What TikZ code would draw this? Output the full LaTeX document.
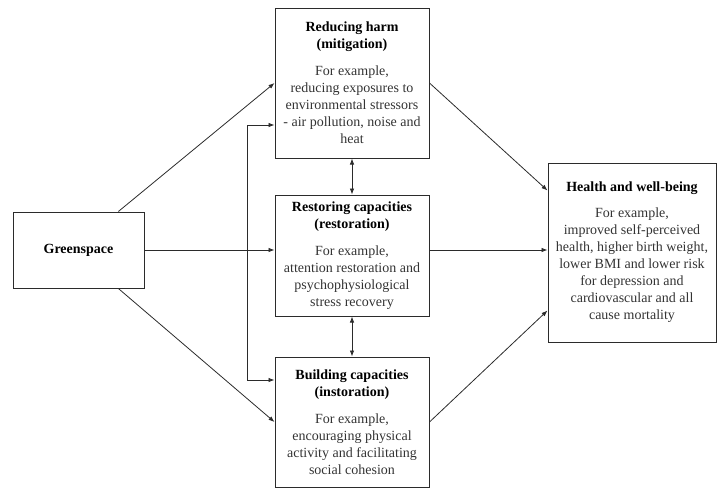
\documentclass[tikz,border=0pt]{standalone}
\usepackage{fontspec}
\setmainfont{Liberation Serif}
\usetikzlibrary{arrows,positioning}
\usetikzlibrary{arrows.meta}
\definecolor{colorLine}{HTML}{2B2B2B}
\definecolor{colorText}{HTML}{333333}
\newcommand{\hd}[1]{\textcolor{black}{\textbf{#1}}}

\begin{document}
\begin{tikzpicture}[x=1pt,y=-1pt,>={Latex[length=6pt,width=4.5pt]},every node/.append style={align=center,font=\fontsize{14}{17}\selectfont,text=colorText},blk/.style={draw=colorLine,line width=1pt,minimum width=154pt,inner sep=2pt},link/.style={->,draw=colorLine,line width=0.8pt}]
    \useasboundingbox (0,0) rectangle (717,488);
    \node [blk, minimum width=131pt, minimum height=76pt] (gs) at (78.5,250) {\hd{Greenspace}};
    \node [blk, minimum height=150pt] (rh) at (352,83) {\hd{Reducing harm}\\\hd{(mitigation)}\\[10pt]For example,\\reducing exposures to\\environmental stressors\\- air pollution, noise and\\heat};
    \node [blk, minimum height=121pt] (rc) at (352,255.5) {\hd{Restoring capacities}\\\hd{(restoration)}\\[10pt]For example,\\attention restoration and\\psychophysiological\\stress recovery};
    \node [blk, minimum height=130pt] (bc) at (352,422) {\hd{Building capacities}\\\hd{(instoration)}\\[10pt]For example,\\encouraging physical\\activity and facilitating\\social cohesion};
    \node [blk, minimum width=168pt, minimum height=179pt] (hw) at (632,252.5) {\hd{Health and well-being}\\[9pt]For example,\\improved self-perceived\\health, higher birth weight,\\lower BMI and lower risk\\for depression and\\cardiovascular and all\\cause mortality};
    % greenspace to the three pathways
    \draw [link] (gs.44) -- (rh.west);
    \draw [link] (gs.east) -- (gs.east -| rc.west);
    \draw [link] (gs.-44) -- (bc.west);
    \draw [link, <->] ([yshift=-42pt]rh.west) -- ++(-27,0) |- ([yshift=42pt]bc.west);
    % links between the pathways
    \draw [link, <->] (rh.south) -- (rc.north);
    \draw [link, <->] (rc.south) -- (bc.north);
    % pathways to health
    \draw [link] (rh.east) -- ([yshift=62pt]hw.west);
    \draw [link] (rc.east |- gs.east) -- (hw.west |- gs.east);
    \draw [link] (bc.east) -- ([yshift=-58pt]hw.west);
\end{tikzpicture}
\end{document}
